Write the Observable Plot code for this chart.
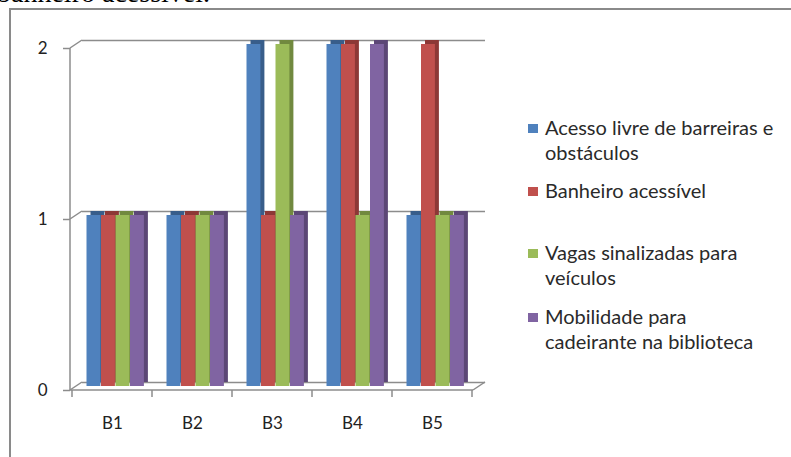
<!DOCTYPE html>
<html>
<head>
<meta charset="utf-8">
<script src="https://cdn.jsdelivr.net/npm/d3@7"></script>
<script src="https://cdn.jsdelivr.net/npm/@observablehq/plot@0.6"></script>
<style>
  html, body { margin: 0; padding: 0; background: #fff; width: 791px; height: 457px; overflow: hidden; }
  #wrap { position: relative; width: 791px; height: 457px; font-family: Lato, sans-serif; overflow: hidden; }
  #chart { position: absolute; left: 0; top: 0; }
  #doc { position: absolute; left: -3px; top: -21px; font-family: "Liberation Serif", serif; font-size: 28px; line-height: 28px; color: #000; white-space: nowrap; }
  #border { position: absolute; left: 9px; top: 8px; width: 800px; height: 470px; border-left: 2px solid #8a8a8a; border-top: 2px solid #8a8a8a; pointer-events: none; }
  .item { position: absolute; left: 528px; font-size: 20px; line-height: 25px; color: #2a2a2a; }
  .sw { position: absolute; left: 0; width: 10px; height: 9px; }
  .lbl { position: absolute; left: 17px; top: 0; white-space: pre; }
</style>
</head>
<body>
<div id="wrap">
  <div id="doc">banheiro acessível.</div>
  <div id="chart"></div>
  <div id="border"></div>
  <div id="legend"></div>
</div>
<script>
// ---- data ----
const categories = ["B1", "B2", "B3", "B4", "B5"];
const series = [
  "Acesso livre de barreiras e obstáculos",
  "Banheiro acessível",
  "Vagas sinalizadas para veículos",
  "Mobilidade para cadeirante na biblioteca"
];
const legendLabels = [
  "Acesso livre de barreiras e\nobstáculos",
  "Banheiro acessível",
  "Vagas sinalizadas para\nveículos",
  "Mobilidade para\ncadeirante na biblioteca"
];
const acesso     = [1, 1, 2, 2, 1];
const banheiro   = [1, 1, 1, 2, 2];
const vagas      = [1, 1, 2, 1, 1];
const mobilidade = [1, 1, 1, 2, 1];
const yTicks = [0, 1, 2];

// ---- styles ----
const frontColors = ["#4F81BD", "#C0504D", "#9BBB59", "#8064A2"];
const sideColors  = ["#385D8A", "#8C3836", "#71893F", "#5C4776"];
const gridColor = "#8c8c8c";

const values = [acesso, banheiro, vagas, mobilidade];
const rows = series.flatMap((s, i) => categories.map((c, j) => ({category: c, series: s, value: values[i][j], si: i})));

// layout
const W = 791, H = 457;
const mLeft = 70, mRight = 318, mTop = 44, mBottom = 71;
const step = (W - mLeft - mRight) / categories.length;
const groupInset = 14.5, barW = 14.5;
const depthX = 4, depthY = 4;     // bar depth
const wallX = 12, wallY = 8;      // wall depth

function frame3d(index, scales, vals, dims) {
  const x = scales.x, y = scales.y;
  const x0 = dims.marginLeft, x1 = dims.width - dims.marginRight;
  const front = v => y(v) + wallY / 2;
  const back = v => y(v) - wallY / 2;
  const g = d3.create("svg:g").attr("stroke", gridColor).attr("stroke-width", 1.5).attr("fill", "none");
  const top = d3.max(yTicks), bot = d3.min(yTicks);
  g.append("line").attr("x1", x0).attr("x2", x0).attr("y1", front(top)).attr("y2", front(bot));
  for (const v of yTicks) {
    g.append("line").attr("x1", x0).attr("y1", front(v)).attr("x2", x0 + wallX).attr("y2", back(v));
  }
  g.append("line").attr("x1", x0).attr("x2", x1).attr("y1", front(bot)).attr("y2", front(bot));
  g.append("line").attr("x1", x1).attr("y1", front(bot)).attr("x2", x1 + wallX).attr("y2", back(bot));
  const bw = x.bandwidth ? x.bandwidth() : step;
  const bounds = categories.map(c => x(c)).concat([x(categories[categories.length - 1]) + bw]);
  for (const b of bounds) {
    g.append("line").attr("x1", b).attr("x2", b).attr("y1", front(bot)).attr("y2", front(bot) + 7);
  }
  return g.node();
}

const barMarks = series.flatMap((s, i) => {
  const data = rows.filter(r => r.si === i);
  const insetLeft = groupInset + i * barW;
  const insetRight = step - groupInset - (i + 1) * barW;
  return [
    Plot.barY(data, {x: "category", y: "value", fill: sideColors[i], insetLeft, insetRight, dx: depthX, dy: -depthY}),
    Plot.barY(data, {x: "category", y: "value", fill: frontColors[i], insetLeft, insetRight})
  ];
});

const chart = Plot.plot({
  width: W, height: H,
  marginLeft: mLeft, marginRight: mRight, marginTop: mTop, marginBottom: mBottom,
  style: {background: "transparent", fontFamily: "Lato, sans-serif", fontSize: "17px", color: "#222"},
  x: {domain: categories, padding: 0, axis: null},
  y: {domain: [0, 2], axis: null},
  marks: [
    Plot.ruleY(yTicks, {dx: wallX, dy: -wallY / 2, stroke: gridColor, strokeWidth: 1.5}),
    frame3d,
    ...barMarks,
    Plot.axisY({ticks: yTicks, label: null, tickSize: 7, tickPadding: 16, dy: wallY / 2, stroke: gridColor, strokeWidth: 1.5, fill: "#222", fontSize: 17, tickFormat: d => String(d)}),
    Plot.axisX({label: null, tickSize: 0, tickPadding: 30, fill: "#222", fontSize: 17})
  ]
});
document.getElementById("chart").appendChild(chart);

// ---- legend ----
const legendTops = [115, 178, 240, 304];
const legend = document.getElementById("legend");
legendLabels.forEach((lab, i) => {
  const item = document.createElement("div");
  item.className = "item";
  item.style.top = legendTops[i] + "px";
  const sw = document.createElement("div");
  sw.className = "sw";
  sw.style.top = "9px";
  sw.style.background = frontColors[i];
  const tx = document.createElement("div");
  tx.className = "lbl";
  tx.textContent = lab;
  item.appendChild(sw);
  item.appendChild(tx);
  legend.appendChild(item);
});
</script>
</body>
</html>
